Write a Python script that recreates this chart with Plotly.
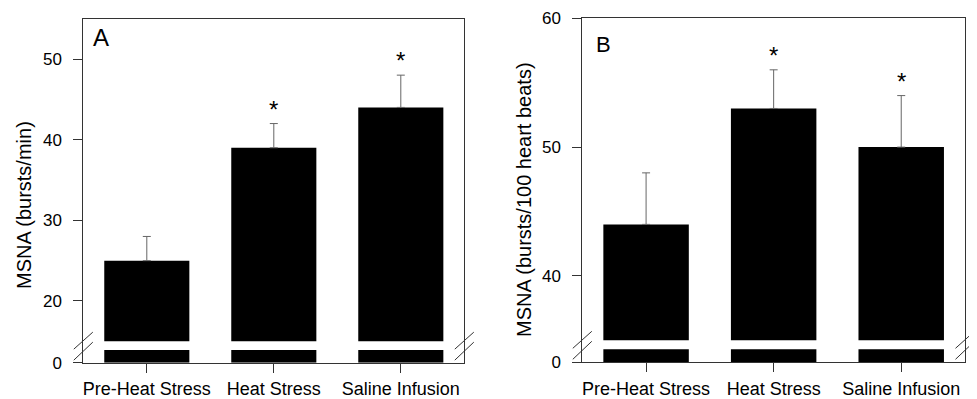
import plotly.graph_objects as go

# ---------------- data ----------------
categories = ["Pre-Heat Stress", "Heat Stress", "Saline Infusion"]
msna_per_min = [25, 39, 44]
msna_per_min_err = [3, 3, 4]
msna_per_100 = [44, 53, 50]
msna_per_100_err = [4, 3, 4]
significant = [False, True, True]

WIN_W, WIN_H = 977, 399
OFF = 8  # default page (body) margin of the HTML page
W, H = WIN_W - OFF, WIN_H - OFF
FONT = "Liberation Sans, Arial, sans-serif"
LINE = "#333333"


def px(x):
    """window pixel x -> paper fraction"""
    return (x - OFF) / W


def py(y):
    """window pixel y -> paper fraction"""
    return 1 - (y - OFF) / H


fig = go.Figure()

panels = [
    dict(x="x", xa="xaxis", yu="y", yua="yaxis", yl="y2", yla="yaxis2", yf="y3", yfa="yaxis3",
         vals=msna_per_min, errs=msna_per_min_err,
         xdom=(83.3, 464.3), top=18.7, ub=341.3, lt=350.0, bot=362.7,
         urange=[15, 55], uticks=[20, 30, 40, 50],
         title="MSNA (bursts/min)", tpos=(24, 205), letter="A", lpos=(91, 38), lsize=24),
    dict(x="x2", xa="xaxis2", yu="y4", yua="yaxis4", yl="y5", yla="yaxis5", yf="y6", yfa="yaxis6",
         vals=msna_per_100, errs=msna_per_100_err,
         xdom=(582.3, 965.0), top=18.3, ub=340.3, lt=349.3, bot=362.0,
         urange=[35, 60], uticks=[40, 50, 60],
         title="MSNA (bursts/100 heart beats)", tpos=(524, 200), letter="B", lpos=(594, 44), lsize=22),
]

layout = dict(
    width=W, height=H,
    margin=dict(l=0, r=0, t=0, b=0, autoexpand=False),
    paper_bgcolor="white",
    plot_bgcolor="rgba(0,0,0,0)",
    showlegend=False,
    font=dict(family=FONT, color="black"),
)
annotations = []
shapes = []

for p in panels:
    # upper segment of bars (with error bars)
    fig.add_trace(go.Bar(
        x=categories, y=p["vals"], xaxis=p["x"], yaxis=p["yu"],
        marker=dict(color="black", line=dict(width=0)), width=0.67,
        error_y=dict(type="data", symmetric=False, array=p["errs"],
                     arrayminus=[0] * len(p["errs"]),
                     color="#666666", thickness=1, width=4),
        hoverinfo="skip",
    ))
    # lower segment of bars (below the axis break)
    fig.add_trace(go.Bar(
        x=categories, y=p["vals"], xaxis=p["x"], yaxis=p["yl"],
        marker=dict(color="black", line=dict(width=0)), width=0.67,
        hoverinfo="skip",
    ))
    # empty trace so the frame axis exists
    fig.add_trace(go.Scatter(x=[None], y=[None], xaxis=p["x"], yaxis=p["yf"],
                             mode="markers", hoverinfo="skip"))

    xdom = [px(p["xdom"][0]), px(p["xdom"][1])]
    layout[p["xa"]] = dict(
        domain=xdom, anchor=p["yf"], type="category", range=[-0.5, 2.5],
        showline=True, mirror=True, linecolor=LINE, linewidth=1,
        ticks="outside", ticklen=9, tickcolor=LINE, ticklabelstandoff=1,
        tickfont=dict(size=18, family=FONT, color="black"),
        showgrid=False, zeroline=False, fixedrange=True, automargin=False,
    )
    layout[p["yua"]] = dict(
        domain=[py(p["ub"]), py(p["top"])], anchor=p["x"], range=p["urange"],
        tickvals=p["uticks"], ticks="outside", ticklen=9, tickcolor=LINE,
        ticklabelstandoff=8,
        tickfont=dict(size=17, family=FONT, color="black"),
        showline=False, showgrid=False, zeroline=False, fixedrange=True, automargin=False,
    )
    layout[p["yla"]] = dict(
        domain=[py(p["bot"]), py(p["lt"])], anchor=p["x"], range=[0, 1],
        tickvals=[0], ticktext=["0"], ticks="outside", ticklen=9, tickcolor=LINE,
        ticklabelstandoff=8,
        tickfont=dict(size=17, family=FONT, color="black"),
        showline=False, showgrid=False, zeroline=False, fixedrange=True, automargin=False,
    )
    layout[p["yfa"]] = dict(
        domain=[py(p["bot"]), py(p["top"])], anchor=p["x"], range=[0, 1],
        showline=True, mirror=True, linecolor=LINE, linewidth=1,
        ticks="", showticklabels=False, showgrid=False, zeroline=False,
        fixedrange=True, automargin=False,
    )

    # significance asterisks
    for c, v, e, s in zip(categories, p["vals"], p["errs"], significant):
        if s:
            annotations.append(dict(
                x=c, y=v + e, xref=p["x"], yref=p["yu"], text="*", showarrow=False,
                yanchor="bottom", xanchor="center", yshift=-1,
                font=dict(size=24, family=FONT, color="black"),
            ))

    # y-axis title
    annotations.append(dict(
        x=px(p["tpos"][0]), y=py(p["tpos"][1]), xref="paper", yref="paper",
        text=p["title"], textangle=-90, showarrow=False,
        xanchor="center", yanchor="middle",
        font=dict(size=20, family=FONT, color="black"),
    ))
    # panel letter
    annotations.append(dict(
        x=px(p["lpos"][0]), y=py(p["lpos"][1]), xref="paper", yref="paper",
        text=p["letter"], showarrow=False, xanchor="left", yanchor="middle",
        font=dict(size=p["lsize"], family=FONT, color="black"),
    ))

    # axis-break marks "//" on the left and right frame lines
    yc = py((p["ub"] + p["lt"]) / 2)
    for xe in p["xdom"]:
        for (y0, y1) in [(-3.5, 13.5), (-14.5, 3.5)]:
            shapes.append(dict(
                type="line", xref="paper", yref="paper",
                xsizemode="pixel", ysizemode="pixel",
                xanchor=px(xe), yanchor=yc,
                x0=-9.5, x1=9.5, y0=y0, y1=y1,
                line=dict(color=LINE, width=1),
            ))

layout["annotations"] = annotations
layout["shapes"] = shapes
fig.update_layout(**layout)

fig.write_html("out.html")
